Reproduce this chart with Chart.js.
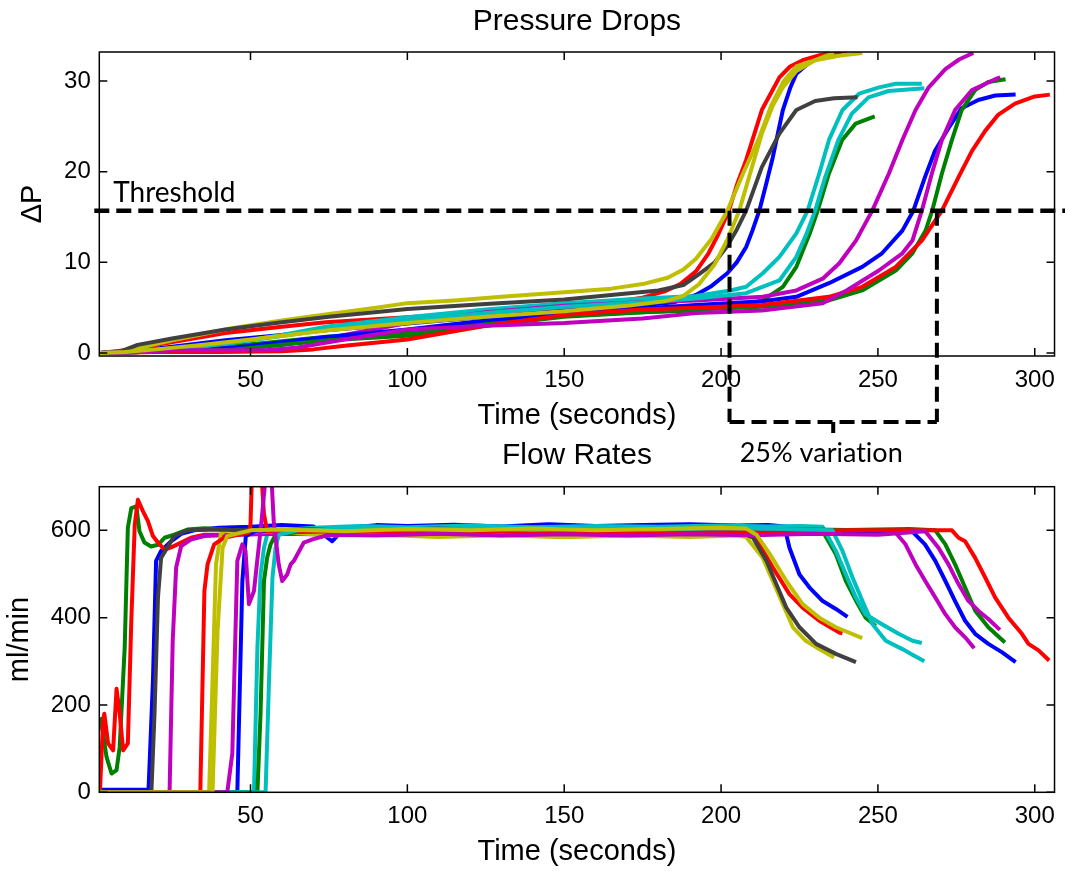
<!DOCTYPE html>
<html>
<head>
<meta charset="utf-8">
<title>Pressure Drops / Flow Rates</title>
<script src="https://cdn.jsdelivr.net/npm/chart.js@4.4.1/dist/chart.umd.min.js"></script>
<style>
  body { margin: 0; background: #fff; }
  #wrap { position: relative; width: 1065px; height: 872px; }
  canvas { position: absolute; left: 0; }
  #dpChart { top: 0; }
  #flowChart { top: 430px; }
</style>
</head>
<body>
<div id="wrap">
  <canvas id="dpChart" width="1065" height="480"></canvas>
  <canvas id="flowChart" width="1065" height="442"></canvas>
</div>
<script>
// axis ticks
const xTicks = [50, 100, 150, 200, 250, 300];
const dpTicks = [0, 10, 20, 30];
const flowTicks = [0, 200, 400, 600];

// matlab colour order, 13 runs
const runColors = ["#0000ff", "#008000", "#ff0000", "#00bfbf", "#bf00bf", "#bfbf00", "#404040",
                   "#0000ff", "#008000", "#ff0000", "#00bfbf", "#bf00bf", "#bfbf00"];

const threshold = 15.7;
const firstCross = 202.7;
const lastCross = 268.8;

// pressure drop, [time, dP]
const dp1 = [[2,0],[12,0.2],[25,0.7],[42,1.4],[60,2.0],[74,2.5],[100,3.25],[125,4.0],[150,4.7],[170,5.1],[185,5.6],[192,6.4],[197,7.4],[202,8.8],[205,10.0],[208,11.7],[210,13.5],[212.2,15.7],[214.5,18.8],[216.5,21.6],[219.7,26.8],[222,29.2],[224,30.8],[229,32.3],[236,33.1]];
const dp2 = [[2,0],[15,0.1],[30,0.4],[42,0.7],[60,1.3],[74,1.8],[100,2.2],[125,3.4],[150,4.1],[175,4.5],[192,4.7],[205,5.2],[213.3,5.8],[219.7,7.3],[224,9.5],[228.3,13.2],[230.8,15.7],[234.4,19.8],[238.6,23.5],[242.9,25.3],[249,26.1]];
const dp3 = [[2,0],[10,0.3],[20,0.9],[30,1.5],[42,2.2],[60,2.9],[74,3.4],[100,3.95],[125,4.5],[150,5.1],[165,5.6],[175,6.1],[182,6.8],[187,7.6],[192,9.0],[196,11.0],[199,13.0],[202.5,15.7],[205,18.5],[208,21.3],[213,26.8],[218.6,30.4],[222,31.6],[226,32.3],[232,32.9],[240,33.3]];
const dp4 = [[2,0],[12,0.2],[25,0.5],[42,1.0],[60,2.0],[74,2.9],[100,3.95],[125,4.8],[150,5.5],[175,6.0],[192,6.3],[203,6.9],[208,7.3],[213.3,8.8],[218.6,10.6],[224,13.2],[227.6,15.7],[231.3,19.8],[234.4,23.5],[238.7,26.8],[244,28.6],[250.4,29.3],[255.7,29.7],[264,29.7]];
const dp5 = [[2,0],[15,0.1],[30,0.3],[45,0.4],[60,0.9],[74,1.6],[100,3.3],[125,4.5],[150,5.2],[175,5.6],[192,5.8],[213.3,6.2],[224,6.9],[232.4,8.2],[237.7,9.9],[243,12.4],[248.2,15.7],[253.5,19.8],[257.8,23.5],[262,26.8],[266.2,29.3],[271.5,31.3],[276,32.4],[280.4,33.1]];
const dp6 = [[2,0],[6,0],[10,0.2],[15,0.6],[25,1.4],[35,2.1],[45,2.8],[60,3.6],[75,4.3],[90,5.0],[100,5.5],[115,5.8],[130,6.2],[150,6.7],[165,7.1],[175,7.6],[183,8.3],[188,9.2],[192,10.4],[197,12.6],[202,15.7],[207,19.8],[212,23.6],[216,27.3],[220,30.0],[224,31.6],[230,32.3],[238,32.8],[245,33.1]];
const dp7 = [[2,0],[8,0.1],[14,0.9],[25,1.6],[42,2.6],[60,3.4],[75,4.0],[100,4.85],[125,5.4],[150,5.9],[165,6.4],[180,6.9],[188,7.5],[193,8.7],[198,10.0],[202,11.8],[205,13.6],[208,15.7],[213,20.5],[218.6,24.2],[224,26.8],[230,27.8],[236,28.1],[243.5,28.2]];
const dp8 = [[2,0],[15,0.1],[30,0.3],[45,0.6],[60,1.2],[75,1.8],[100,2.6],[125,3.6],[150,4.3],[175,4.9],[192,5.3],[213.3,5.7],[224,6.2],[234.4,7.7],[245,9.5],[251.3,11.0],[257.8,13.5],[261.3,15.7],[265,19.4],[268.2,22.3],[272.5,24.8],[276.7,27.0],[282,27.9],[287.4,28.4],[293.9,28.5]];
const dp9 = [[2,0],[15,0.1],[30,0.2],[45,0.4],[60,0.9],[75,1.4],[100,1.9],[125,3.0],[150,4.0],[175,4.5],[192,4.8],[213,5.1],[234.4,5.8],[245,6.9],[255.7,9.1],[261,11.0],[265.2,13.5],[267.3,15.7],[270.4,19.8],[273.6,23.5],[276.7,26.8],[281,29.0],[285.2,29.9],[290.7,30.2]];
const dp10 = [[2,0],[20,0.1],[40,0.1],[60,0.2],[70,0.4],[80,0.8],[100,1.5],[125,3.0],[150,4.2],[175,4.8],[192,5.0],[213,5.3],[234.4,6.2],[245,7.3],[255.7,9.5],[264,12.4],[270.4,15.7],[275.7,19.4],[280,22.3],[284.2,24.5],[288.4,26.3],[293.7,27.5],[300,28.3],[304.8,28.5]];
const dp11 = [[2,0],[15,0.1],[30,0.5],[50,1.4],[75,2.6],[100,3.6],[125,4.4],[150,5.1],[175,5.6],[192,6.0],[208,6.6],[218.6,8.0],[224,10.6],[227.3,13.2],[230,15.7],[233.2,19.4],[237.4,23.5],[241.7,26.4],[247,28.2],[253.4,28.9],[264.8,29.2]];
const dp12 = [[2,0],[15,0.1],[25,0.3],[40,0.3],[55,0.3],[65,0.6],[80,1.5],[100,2.6],[125,3.0],[150,3.3],[175,3.8],[192,4.4],[213,4.7],[232.4,5.5],[240,6.9],[250.3,9.1],[257.8,11.0],[261,12.4],[264,15.7],[267.2,19.8],[270.4,23.5],[274.6,26.8],[280,29.0],[287.4,30.2],[289,30.4]];
const dp13 = [[2,0],[10,0.1],[20,0.4],[35,0.9],[50,1.5],[75,2.5],[100,3.3],[125,4.0],[150,4.6],[170,5.2],[182,5.7],[188,6.3],[193,7.6],[198,9.8],[202,12.5],[205.8,15.7],[209,19.5],[213,24.2],[216.5,27.3],[219.7,29.3],[224,31.1],[230,32.3],[236,33.1]];

// flow rate, [time, ml/min]
const flow1 = [[2,6],[17.5,6],[18.9,256],[19.9,530],[21.5,553],[24.7,575],[27.9,592],[32,600],[40,606],[50,608],[60,612],[70,609],[76,575],[80,605],[90,612],[100,610],[115,613],[130,609],[145,614],[160,610],[175,612],[190,614],[205,611],[215,612],[220.2,609],[221.8,560],[225,499],[228.2,469],[232.4,438],[236.6,420],[240.3,402]];
const flow2 = [[2,172],[3,135],[4.1,81],[5.7,43],[7.3,51],[8.3,104],[9.9,332],[10.9,606],[12,651],[13.6,655],[14.6,598],[16.2,572],[18.3,563],[20.5,567],[22.6,583],[25.7,590],[29.9,602],[35.3,605],[45,600],[60,596],[75,600],[95,598],[115,602],[135,598],[155,601],[175,598],[195,600],[215,602],[230,600],[232.4,598],[236.6,545],[239.8,484],[243,439],[246.1,400],[249.3,381]];
const flow3 = [[2,0],[3,165],[3.4,180],[4.6,112],[6.2,96],[7.3,237],[8.3,181],[9.4,96],[10.9,112],[12,393],[13.1,613],[14.1,670],[15.7,644],[17.3,621],[18.9,587],[20.5,572],[22.6,556],[24.7,561],[27.9,572],[31,583],[35.3,590],[45,590],[60,594],[80,592],[100,596],[120,593],[140,597],[160,594],[180,597],[200,595],[208,596],[211.3,579],[216.5,515],[221.8,454],[226,423],[231.3,393],[237.7,366],[238.7,364]];
const flow4 = [[2,0],[51.1,0],[52.2,332],[53.2,499],[54.3,560],[55.3,590],[60,600],[70,606],[85,610],[100,607],[120,611],[140,607],[160,610],[180,608],[200,611],[215,609],[225,610],[232.4,608],[236.6,553],[239.8,499],[243,446],[246,408],[251.3,385],[256.6,363],[261,347],[264,342]];
const flow5 = [[2,0],[24.2,0],[25.2,347],[26.3,515],[27.9,564],[31,579],[35.3,587],[45,590],[60,592],[80,590],[100,594],[120,591],[140,595],[160,592],[180,594],[200,592],[220,595],[240,593],[255.6,595],[258.8,568],[262,522],[265.1,484],[268.3,446],[271.5,408],[274.6,378],[277.8,355],[280.7,330]];
const flow6 = [[2,0],[36.8,0],[37.9,256],[39,522],[40.5,591],[42.1,600],[50,598],[60,596],[75,588],[90,590],[110,585],[130,589],[150,584],[170,588],[190,585],[205,588],[208,585],[213.3,537],[216.5,484],[219.7,431],[222.9,378],[227,347],[231.3,328],[236,309]];
const flow7 = [[2,0],[18.4,0],[19.4,180],[20.5,446],[21.5,537],[25.7,587],[29.9,600],[40,602],[55,598],[70,603],[90,600],[110,604],[130,600],[150,603],[170,600],[190,602],[205,600],[210.2,583],[214.5,530],[217.6,477],[220.8,423],[225,378],[230.3,340],[236.6,317],[243,298]];
const flow8 = [[2,0],[45.8,0],[47.4,484],[48.5,587],[52,600],[60,598],[80,600],[100,597],[120,601],[140,598],[160,600],[180,597],[200,600],[220,598],[240,599],[261,597],[265,568],[268.3,530],[271.5,484],[274.6,438],[277.8,393],[281,363],[285.2,340],[289.5,321],[293.9,298]];
const flow9 = [[2,0],[52.2,0],[53.2,180],[54.3,484],[55.3,537],[56.4,568],[58,590],[65,596],[80,600],[100,598],[120,601],[140,598],[160,602],[180,599],[200,600],[220,603],[240,601],[260,603],[268.3,600],[271.5,568],[274.6,522],[277.8,469],[281,416],[285.2,378],[290.5,343]];
const flow10 = [[2,0],[34,0],[35.3,461],[36.3,522],[38.4,568],[41.6,583],[46,590],[49.5,595],[50,613],[50.6,760],[53.2,760],[54.3,637],[55.3,598],[60,596],[80,598],[100,596],[120,599],[140,596],[160,598],[180,596],[200,598],[220,597],[240,600],[260,600],[273.6,600],[275.7,583],[277.8,575],[281,537],[284.2,492],[287.4,446],[291.6,400],[295.9,363],[298,340],[301.2,325],[304.6,302]];
const flow11 = [[2,0],[54.8,0],[55.9,256],[57,492],[58,560],[59,590],[65,600],[80,604],[100,602],[120,605],[140,601],[160,604],[180,602],[200,605],[220,603],[235.5,600],[238.7,553],[241.9,492],[245,439],[248.3,385],[252.5,347],[257.8,328],[261,315],[264.8,300]];
const flow12 = [[2,0],[42.6,0],[44.2,89],[45.8,530],[47.4,568],[48.4,553],[49.5,431],[51.1,461],[53.5,620],[55.3,760],[56.4,760],[57.4,621],[59,522],[60.1,484],[61.7,499],[62.8,522],[63.8,530],[67,572],[70,580],[75,590],[90,588],[110,592],[130,588],[150,591],[170,588],[190,591],[210,589],[230,592],[250,590],[265.1,598],[269.3,560],[272.5,522],[275.7,477],[278.8,439],[282,416],[285.2,397],[288.9,372]];
const flow13 = [[2,0],[37.9,0],[39.5,370],[41.1,560],[42.6,587],[50,600],[60,602],[80,598],[100,603],[120,600],[140,604],[160,600],[180,603],[200,606],[208,604],[211.3,590],[215.6,545],[220.8,484],[226,431],[231.3,400],[236.6,378],[245,353]];

const dpRuns = [dp1, dp2, dp3, dp4, dp5, dp6, dp7, dp8, dp9, dp10, dp11, dp12, dp13];
const flowRuns = [flow1, flow2, flow3, flow4, flow5, flow6, flow7, flow8, flow9, flow10, flow11, flow12, flow13];

Chart.defaults.font.family = "'Liberation Sans', Arial, sans-serif";
Chart.defaults.color = "#000";

// chart.js draws dataset 0 last, so reverse to keep run 13 on top like matlab
function makeDatasets(runs) {
  return runs.map((pts, i) => ({
    data: pts.map(([x, y]) => ({ x: x, y: y })),
    borderColor: runColors[i],
    borderWidth: 4,
    pointRadius: 0,
    tension: 0,
    borderJoinStyle: "round",
    fill: false,
  })).reverse();
}

// box round the plot with small inward ticks on every side
const framePlugin = {
  id: "frame",
  afterDatasetsDraw(chart) {
    const { ctx, chartArea: a, scales } = chart;
    const x = scales.x, y = scales.y;
    ctx.save();
    ctx.strokeStyle = "#000";
    ctx.lineWidth = 1.5;
    ctx.strokeRect(a.left, a.top, a.right - a.left, a.bottom - a.top);
    ctx.beginPath();
    x.ticks.forEach((t) => {
      const px = x.getPixelForValue(t.value);
      ctx.moveTo(px, a.bottom); ctx.lineTo(px, a.bottom - 8);
      ctx.moveTo(px, a.top); ctx.lineTo(px, a.top + 8);
    });
    y.ticks.forEach((t) => {
      const py = y.getPixelForValue(t.value);
      ctx.moveTo(a.left, py); ctx.lineTo(a.left + 8, py);
      ctx.moveTo(a.right, py); ctx.lineTo(a.right - 8, py);
    });
    ctx.stroke();
    ctx.restore();
  },
};

// threshold line, bracket and its labels
const thresholdPlugin = {
  id: "threshold",
  afterDraw(chart) {
    const { ctx, chartArea: a, scales } = chart;
    const x = scales.x, y = scales.y;
    const ty = y.getPixelForValue(threshold);
    const x1 = x.getPixelForValue(firstCross);
    const x2 = x.getPixelForValue(lastCross);
    const by = a.bottom + 66;
    ctx.save();
    ctx.strokeStyle = "#000";
    ctx.lineWidth = 4.5;
    ctx.setLineDash([15, 7]);
    ctx.beginPath();
    ctx.moveTo(a.left - 5, ty); ctx.lineTo(chart.width, ty);
    ctx.stroke();
    ctx.lineWidth = 4;
    ctx.beginPath();
    ctx.moveTo(x1, ty); ctx.lineTo(x1, by);
    ctx.moveTo(x2, ty); ctx.lineTo(x2, by);
    ctx.moveTo(x1, by); ctx.lineTo(x2, by);
    ctx.stroke();
    ctx.setLineDash([]);
    ctx.beginPath();
    ctx.moveTo((x1 + x2) / 2, by); ctx.lineTo((x1 + x2) / 2, by + 11);
    ctx.stroke();

    ctx.fillStyle = "#000";
    ctx.font = "28px Lato, 'Open Sans', sans-serif";
    ctx.textAlign = "left";
    ctx.textBaseline = "alphabetic";
    ctx.fillText("Threshold", a.left + 14, ty - 9);
    ctx.font = "27px Lato, 'Open Sans', sans-serif";
    ctx.textAlign = "center";
    // zero-width non-joiner keeps Lato from using its "ti" ligature
    ctx.fillText("25% variat\u200Cion", (x1 + x2) / 2 - 12, by + 40);
    ctx.restore();
  },
};

function axisX(titlePad, height) {
  return {
    type: "linear",
    min: 1.8,
    max: 306.3,
    grid: { display: false, drawTicks: false },
    border: { display: false },
    afterBuildTicks: (s) => { s.ticks = xTicks.map((v) => ({ value: v })); },
    afterFit: (s) => { s.height = height; },
    ticks: { padding: 10, font: { size: 24 }, maxRotation: 0, autoSkip: false },
    title: { display: true, text: "Time (seconds)", font: { size: 29 }, padding: { top: 0, bottom: titlePad } },
  };
}

function axisY(min, max, tickVals, label, labelPad) {
  return {
    type: "linear",
    min: min,
    max: max,
    grid: { display: false, drawTicks: false },
    border: { display: false },
    afterBuildTicks: (s) => { s.ticks = tickVals.map((v) => ({ value: v })); },
    afterFit: (s) => { s.width = 99.3; },
    ticks: { padding: 8.5, font: { size: 24 } },
    title: { display: true, text: label, font: { size: 29 }, padding: { top: labelPad, bottom: 0 } },
  };
}

const dpChart = new Chart(document.getElementById("dpChart"), {
  type: "line",
  data: { datasets: makeDatasets(dpRuns) },
  options: {
    responsive: false,
    animation: false,
    events: [],
    layout: { padding: { left: 0, right: 5, top: 0, bottom: 44 }, autoPadding: false },
    plugins: {
      legend: { display: false },
      tooltip: { enabled: false },
      title: {
        display: true,
        fullSize: false,
        text: "Pressure Drops",
        font: { size: 30, weight: "normal" },
        padding: { top: 4, bottom: 12 },
      },
    },
    scales: {
      x: axisX(3, 80),
      y: axisY(-0.33, 33.2, dpTicks, "\u0394P", 16),
    },
  },
  plugins: [framePlugin, thresholdPlugin],
});

const flowChart = new Chart(document.getElementById("flowChart"), {
  type: "line",
  data: { datasets: makeDatasets(flowRuns) },
  options: {
    responsive: false,
    animation: false,
    events: [],
    layout: { padding: { left: 0, right: 5, top: 0, bottom: 0 }, autoPadding: false },
    plugins: {
      legend: { display: false },
      tooltip: { enabled: false },
      title: {
        display: true,
        fullSize: false,
        text: "Flow Rates",
        font: { size: 30, weight: "normal" },
        padding: { top: 7.6, bottom: 13.1 },
      },
    },
    scales: {
      x: axisX(2.6, 79.7),
      y: axisY(0, 700, flowTicks, "ml/min", 3),
    },
  },
  plugins: [framePlugin],
});
</script>
</body>
</html>
